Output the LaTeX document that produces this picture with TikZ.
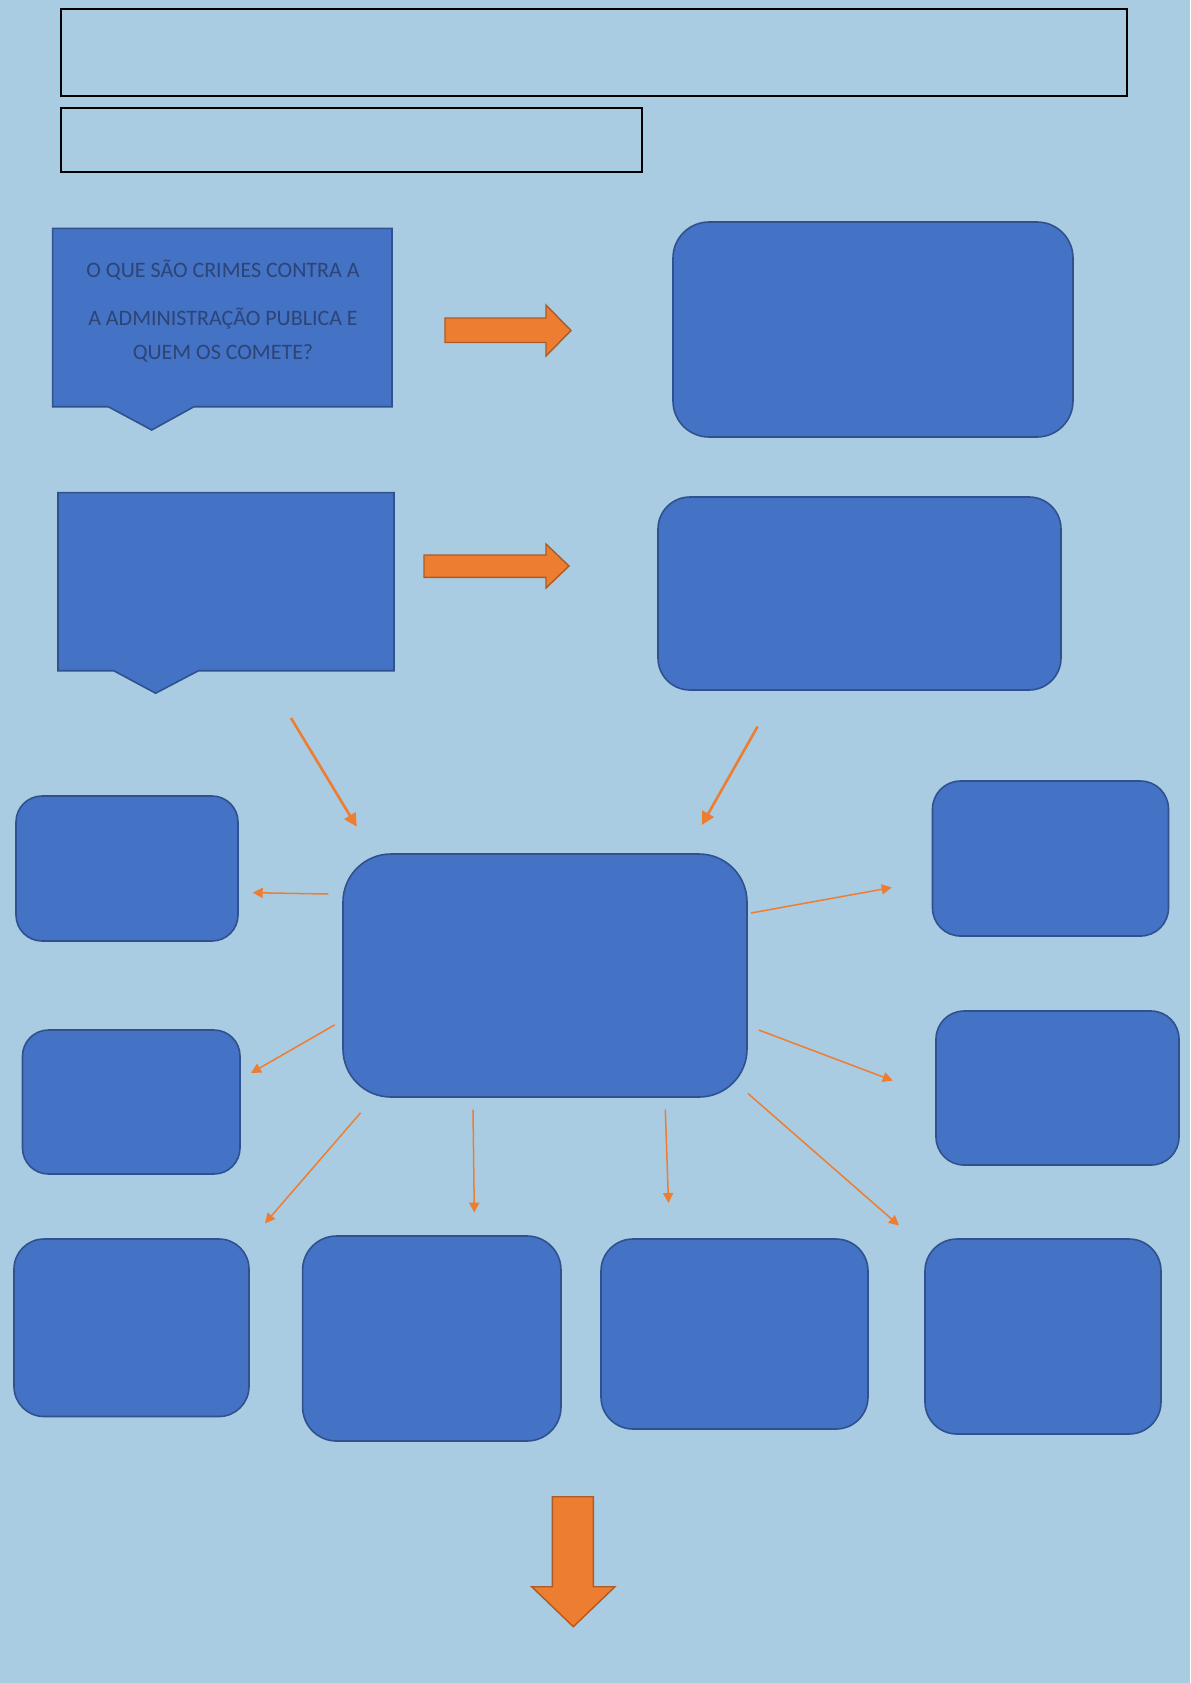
\documentclass[tikz,border=0pt]{standalone}
\usepackage{fontspec}
\setmainfont{Carlito}
\usepackage{xcolor}
\usepackage{tikz}
\usetikzlibrary{arrows.meta,calc}

\definecolor{pagebg}{RGB}{169,204,227}
\definecolor{boxblue}{RGB}{68,114,196}
\definecolor{boxedge}{RGB}{47,82,143}
\definecolor{arroworange}{RGB}{237,125,49}
\definecolor{arrowedge}{RGB}{174,90,33}
\definecolor{textblue}{RGB}{44,68,118}

\begin{document}
\begin{tikzpicture}[x=0.5pt, y=-0.5pt,
    roundbox/.style={draw=boxedge, fill=boxblue, line width=0.8pt, rounded corners=#1, inner sep=0pt},
    roundbox/.default=15pt,
    calloutbox/.style={draw=boxedge, fill=boxblue, line width=0.8pt},
    titlebox/.style={draw=black, line width=1pt},
    blockarrow/.style={draw=arrowedge, fill=arroworange, line width=0.7pt, line join=miter},
    thinarrow/.style={draw=arroworange, line width=0.75pt, -{Triangle[length=5pt,width=5pt]}},
    thickarrow/.style={draw=arroworange, line width=1.3pt, -{Triangle[length=6.5pt,width=6.5pt]}}]

    % Page background
    \fill[pagebg] (0,0) rectangle (1190,1683);
    \useasboundingbox (0,0) rectangle (1190,1683);

    % Title boxes
    \draw[titlebox] (61,9) rectangle (1127,95.5);
    \draw[titlebox] (61,108) rectangle (642,172);

    % Callouts on the left
    \draw[calloutbox] (52.6,228.4) -- (392,228.4) -- (392,406.7) -- (194,406.7)
        -- (151.7,430) -- (108.3,406.7) -- (52.6,406.7) -- cycle;
    \node[font=\fontsize{11}{17}\selectfont, text=textblue, align=center] (question) at (223,311)
        {O QUE SÃO CRIMES CONTRA A\\[7pt] A ADMINISTRAÇÃO PUBLICA E\\ QUEM OS COMETE?};
    \draw[calloutbox] (58,492.6) -- (394,492.6) -- (394,670.7) -- (198.5,670.7)
        -- (155.6,693.2) -- (113.7,670.7) -- (58,670.7) -- cycle;

    % Block arrows
    \draw[blockarrow] (445,318) -- (546,318) -- (546,305) -- (571,330.5)
        -- (546,356) -- (546,342.5) -- (445,342.5) -- cycle;
    \draw[blockarrow] (424,555) -- (546,555) -- (546,544) -- (569,566)
        -- (546,588) -- (546,577.3) -- (424,577.3) -- cycle;

    % Boxes
    \node[roundbox=18pt, minimum width=200pt, minimum height=107.5pt] (topR) at (873,329.5) {};
    \node[roundbox=16pt, minimum width=201.5pt, minimum height=96.5pt] (midR) at (859.5,593.5) {};
    \node[roundbox=24pt, minimum width=202pt, minimum height=121.5pt] (hub) at (545,975.5) {};
    \node[roundbox=13pt, minimum width=111pt, minimum height=72.5pt] (left1) at (127,868.5) {};
    \node[roundbox=13pt, minimum width=108.75pt, minimum height=72pt] (left2) at (131.25,1102) {};
    \node[roundbox=14pt, minimum width=118pt, minimum height=77.5pt] (right1) at (1050.5,858.5) {};
    \node[roundbox=14pt, minimum width=121.5pt, minimum height=77pt] (right2) at (1057.5,1088) {};
    \node[roundbox=15pt, minimum width=117.5pt, minimum height=88.75pt] (bot1) at (131.5,1327.75) {};
    \node[roundbox=17pt, minimum width=129.2pt, minimum height=102.5pt] (bot2) at (431.8,1338.5) {};
    \node[roundbox=16pt, minimum width=133.5pt, minimum height=95pt] (bot3) at (734.5,1334) {};
    \node[roundbox=16pt, minimum width=118pt, minimum height=97.5pt] (bot4) at (1043,1336.5) {};

    % Ends of the small arrows
    \coordinate (fromQ) at (291,718);       \coordinate (toHubL) at (356.7,826.7);
    \coordinate (fromR) at (757.6,726.5);   \coordinate (toHubR) at (701.8,825);
    \coordinate (hubW)  at (328.3,894);     \coordinate (toL1)  at (252.7,892.7);
    \coordinate (hubE)  at (751,913);       \coordinate (toR1)  at (891.7,887.5);
    \coordinate (hubSW) at (334.8,1024.8);  \coordinate (toL2)  at (251,1073);
    \coordinate (hubSE) at (758.7,1030);    \coordinate (toR2)  at (892.8,1080.6);
    \coordinate (hubB1) at (360.6,1112.8);  \coordinate (toB1)  at (265,1223.3);
    \coordinate (hubB2) at (473,1109.6);    \coordinate (toB2)  at (474.3,1212.6);
    \coordinate (hubB3) at (665.3,1109.6);  \coordinate (toB3)  at (668.5,1203);
    \coordinate (hubB4) at (748,1093.5);    \coordinate (toB4)  at (899,1225.5);

    % Arrows into the hub
    \draw[thickarrow] (fromQ) -- (toHubL);
    \draw[thickarrow] (fromR) -- (toHubR);

    % Arrows out of the hub
    \foreach \a/\b in {hubW/toL1, hubE/toR1, hubSW/toL2, hubSE/toR2,
                       hubB1/toB1, hubB2/toB2, hubB3/toB3, hubB4/toB4} {
        \draw[thinarrow] (\a) -- (\b);
    }

    % Down arrow at the bottom
    \draw[blockarrow] (552.3,1496.7) -- (593.3,1496.7) -- (593.3,1586.7) -- (615,1586.7)
        -- (573.3,1626.7) -- (531.7,1586.7) -- (552.3,1586.7) -- cycle;
\end{tikzpicture}
\end{document}
